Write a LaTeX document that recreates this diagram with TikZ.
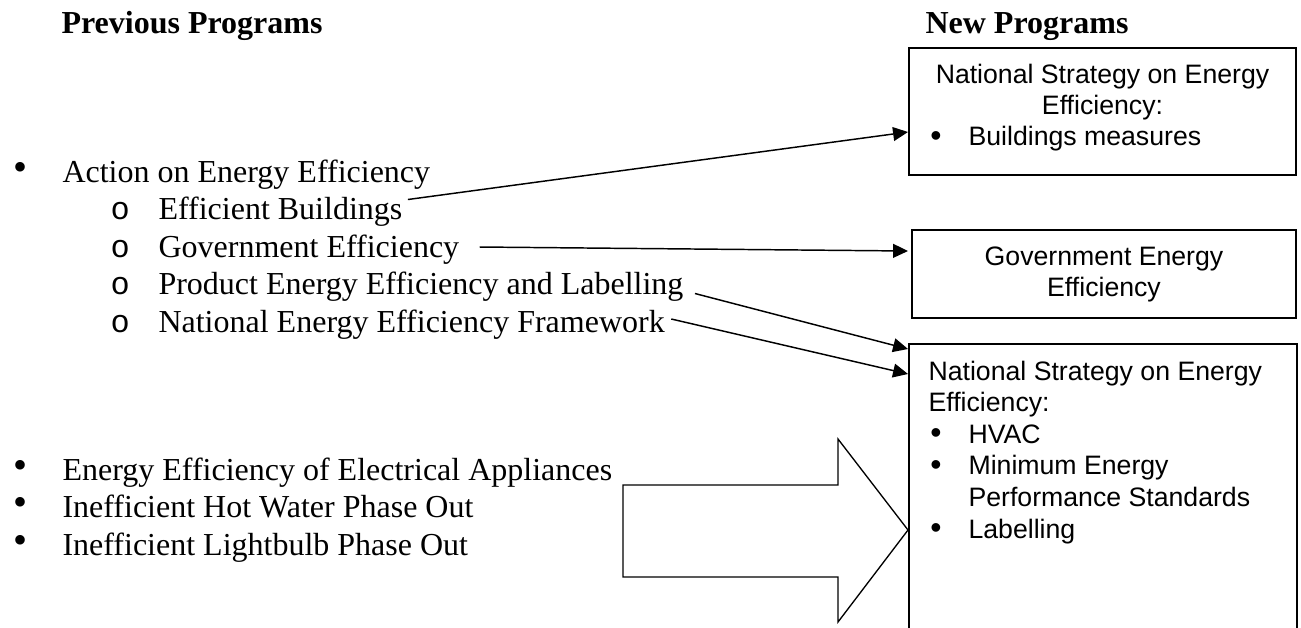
\documentclass[tikz,border=0pt]{standalone}
\usepackage{fontspec}
\setmainfont{Liberation Serif}
\newfontfamily\arialf{Liberation Sans}
\newfontfamily\courf{Liberation Mono}
\usetikzlibrary{arrows.meta,calc}
\begin{document}
\begin{tikzpicture}[x=0.375pt,y=-0.375pt,
  serif/.style={font=\fontsize{12}{14}\selectfont, inner sep=0pt, anchor=base west},
  head/.style={inner sep=0pt, anchor=base west, font=\fontsize{12}{14}\selectfont\bfseries},
  sdot/.style={font=\fontsize{15}{15}\selectfont, inner sep=0pt, anchor=center},
  odot/.style={font=\courf\fontsize{12}{14}\selectfont, inner sep=0pt, anchor=base west},
  sans/.style={font=\arialf\fontsize{10}{12}\selectfont, inner sep=0pt, anchor=base west},
  sansc/.style={font=\arialf\fontsize{10}{12}\selectfont, inner sep=0pt, anchor=base},
  adot/.style={font=\arialf\fontsize{12}{12}\selectfont, inner sep=0pt, anchor=center},
  box/.style={draw, line width=0.75pt, inner sep=0pt},
  conn/.style={line width=0.55pt, -{Triangle[length=5.6pt,width=5.2pt]}},
  blockarrow/.style={draw, line width=0.5pt, line join=miter},
]
\clip (0,0) rectangle (1301,627);

% headings
\node[head] (hp) at (61,33) {Previous Programs};
\node[head] (hn) at (925,33) {New Programs};

% left list
\node[sdot] (d1) at (21,171) {•};
\node[serif] (l0) at (62,182) {Action on Energy Efficiency};
\node[odot] (o1) at (110,219.5) {o};
\node[serif] (l1) at (158,219.5) {Efficient Buildings};
\node[odot] (o2) at (110,257) {o};
\node[serif] (l2) at (158,257) {Government Efficiency};
\node[odot] (o3) at (110,294.5) {o};
\node[serif] (l3) at (158,294.5) {Product Energy Efficiency and Labelling};
\node[odot] (o4) at (110,332) {o};
\node[serif] (l4) at (158,332) {National Energy Efficiency Framework};

\node[sdot] (d2) at (21,469) {•};
\node[serif] (m1) at (62,480) {Energy Efficiency of Electrical Appliances};
\node[sdot] (d3) at (21,506.5) {•};
\node[serif] (m2) at (62,517.5) {Inefficient Hot Water Phase Out};
\node[sdot] (d4) at (21,544) {•};
\node[serif] (m3) at (62,555) {Inefficient Lightbulb Phase Out};

% boxes
\node[box, minimum width=145.125pt, minimum height=47.625pt] (b1) at (1102.5,111.5) {};
\node[box, minimum width=144pt, minimum height=33pt] (b2) at (1104,274) {};
\node[box, minimum width=145.5pt, minimum height=133.5pt] (b3) at (1103,522) {};

% box 1 text
\node[sansc] (t1a) at (1102.5,83) {National Strategy on Energy};
\node[sansc] (t1b) at (1102.5,114) {Efficiency:};
\node[adot] (t1d) at (936,139) {•};
\node[sans] (t1c) at (968,145) {Buildings measures};

% box 2 text
\node[sansc] (t2a) at (1104,265) {Government Energy};
\node[sansc] (t2b) at (1104,296) {Efficiency};

% box 3 text
\node[sans] (t3a) at (928,380) {National Strategy on Energy};
\node[sans] (t3b) at (928,411.6) {Efficiency:};
\node[adot] (t3d1) at (936,436) {•};
\node[sans] (t3c) at (968,443.2) {HVAC};
\node[adot] (t3d2) at (936,468) {•};
\node[sans] (t3e) at (968,474.8) {Minimum Energy};
\node[sans] (t3f) at (968,506.4) {Performance Standards};
\node[adot] (t3d3) at (936,531) {•};
\node[sans] (t3g) at (968,538) {Labelling};

% connectors
\draw[conn] ($(l1.base east)+(5,-20)$) -- ($(b1.west)+(0,20.5)$);
\draw[conn] ($(l2.base east)+(20,-10)$) -- ($(b2.west)+(-3,-23)$);
\draw[conn] ($(l3.base east)+(11,-1)$) -- ($(b3.north west)+(0,6)$);
\draw[conn] ($(l4.base east)+(6,-13)$) -- ($(b3.north west)+(0,31)$);

% block arrow
\coordinate (tip) at ($(b3.west)+(0,8)$);
\draw[blockarrow] (623,485) -- (838,485) -- (838,439) -- (tip) -- (838,622) -- (838,577) -- (623,577) -- cycle;
\end{tikzpicture}
\end{document}
